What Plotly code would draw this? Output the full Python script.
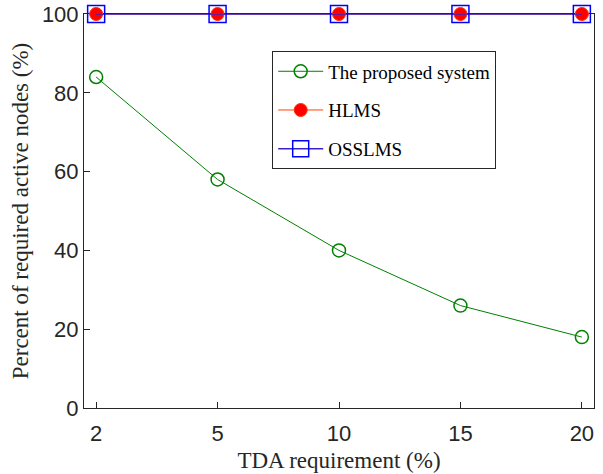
import plotly.graph_objects as go

categories = ["2", "5", "10", "15", "20"]
proposed = [84, 58, 40, 26, 18]
hlms = [100, 100, 100, 100, 100]
osslms = [100, 100, 100, 100, 100]
yticks = [0, 20, 40, 60, 80, 100]

xidx = list(range(len(categories)))

SERIF = "Liberation Serif, Times New Roman, serif"
SANS = "Liberation Sans, Arial, sans-serif"

fig = go.Figure()
fig.add_trace(go.Scatter(
    x=xidx, y=proposed, name="The proposed system", mode="lines+markers",
    legendgroup="a", cliponaxis=False,
    line=dict(color="#008000", width=1),
    marker=dict(symbol="circle-open", size=13, color="#008000", line=dict(width=1.5))))
fig.add_trace(go.Scatter(
    x=xidx, y=hlms, name="HLMS", mode="lines+markers",
    legendgroup="b", cliponaxis=False,
    line=dict(color="#ff4500", width=1),
    marker=dict(symbol="circle", size=13, color="#ff0000", line=dict(color="#ff3300", width=1))))
fig.add_trace(go.Scatter(
    x=xidx, y=osslms, name="OSSLMS", mode="lines+markers",
    legendgroup="c", cliponaxis=False,
    line=dict(color="#3b22c8", width=1.5),
    marker=dict(symbol="square-open", size=17, color="#0000ff", line=dict(width=1.5))))

fig.update_layout(
    width=603, height=474,
    margin=dict(l=84, r=9, t=14, b=66),
    paper_bgcolor="white", plot_bgcolor="white",
    showlegend=True,
    legend=dict(x=0.369, y=0.905, xanchor="left", yanchor="top",
                bordercolor="#262626", borderwidth=1, bgcolor="white",
                font=dict(family=SERIF, size=19, color="black"),
                tracegroupgap=11, itemwidth=45),
    xaxis=dict(range=[-0.1, 4.1], tickmode="array", tickvals=xidx, ticktext=categories,
               ticks="inside", ticklen=6, tickcolor="#262626", automargin=False,
               showline=True, linecolor="#262626", linewidth=1, mirror=True,
               layer="below traces",
               showgrid=False, zeroline=False, ticklabelstandoff=6,
               tickfont=dict(family=SANS, size=22, color="#262626"),
               title=dict(text="TDA requirement (%)", standoff=6,
                          font=dict(family=SERIF, size=23, color="#262626"))),
    yaxis=dict(range=[0, 100], tickmode="array", tickvals=yticks,
               ticks="inside", ticklen=6, tickcolor="#262626", automargin=False,
               showline=True, linecolor="#262626", linewidth=1, mirror=True,
               layer="below traces",
               showgrid=False, zeroline=False, ticklabelstandoff=0,
               tickfont=dict(family=SANS, size=22, color="#262626"),
               title=dict(text="Percent of required active nodes (%)", standoff=6,
                          font=dict(family=SERIF, size=23, color="#262626"))),
)

fig.write_html("out.html")
